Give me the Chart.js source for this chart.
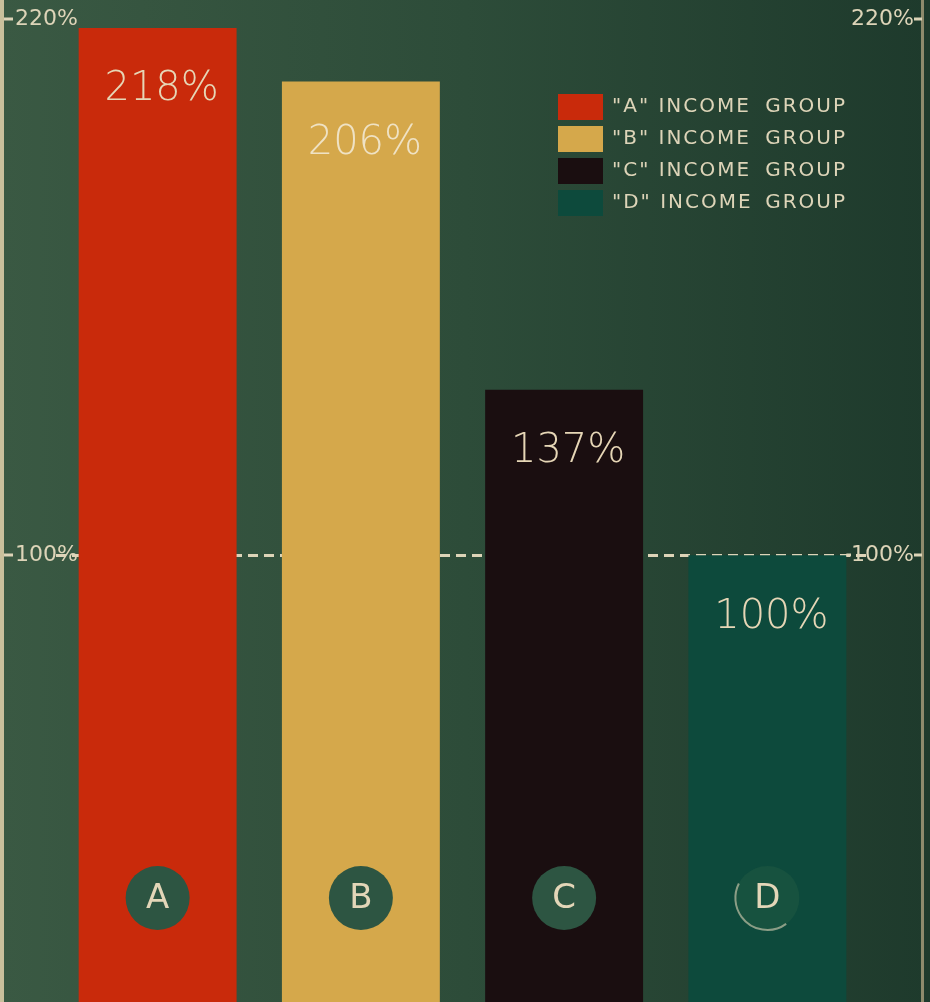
<!DOCTYPE html>
<html>
<head>
<meta charset="utf-8">
<script src="https://cdn.jsdelivr.net/npm/chart.js@4.4.1/dist/chart.umd.min.js"></script>
<style>
  html, body { margin: 0; padding: 0; background: #2c4a38; }
  #wrap { width: 930px; height: 1002px; position: relative; }
</style>
</head>
<body>
<div id="wrap"><canvas id="incomeChart"></canvas></div>
<script>
// Chart data
const groups = ["A", "B", "C", "D"];
const percentValues = [218, 206, 137, 100];
const tickValues = [100, 220];
const legendLabels = ['"A" INCOME', '"B" INCOME', '"C" INCOME', '"D" INCOME'];

const barColors = ["#c92a0b", "#d5a84b", "#1a0e10", "#0d4a3c"];
const cream = "#ddd4b8";

// background, frame lines, tick dashes, value labels, circles and legend
const decorPlugin = {
    id: "decor",
    beforeDraw(chart) {
        const ctx = chart.ctx;
        const g = ctx.createLinearGradient(0, 0, chart.width, 0);
        g.addColorStop(0, "#3a5943");
        g.addColorStop(0.5, "#2d4c39");
        g.addColorStop(1, "#1e3a2c");
        ctx.save();
        ctx.fillStyle = g;
        ctx.fillRect(0, 0, chart.width, chart.height);
        // side lines
        ctx.fillStyle = "#c9c09c";
        ctx.fillRect(0, 0, 4, chart.height);
        ctx.fillStyle = "#8d8a6c";
        ctx.fillRect(921, 0, 3, chart.height);
        ctx.restore();
    },
    afterDraw(chart) {
        const ctx = chart.ctx;
        const y = chart.scales.y;
        const meta = chart.getDatasetMeta(0);
        ctx.save();
        // small tick dashes next to the side lines
        ctx.strokeStyle = cream;
        ctx.lineWidth = 3;
        tickValues.forEach(v => {
            const py = Math.round(y.getPixelForValue(v));
            ctx.beginPath();
            ctx.moveTo(4, py); ctx.lineTo(13, py);
            ctx.moveTo(914, py); ctx.lineTo(922, py);
            ctx.stroke();
        });
        // solid bit joining bar D to the right 100% label
        const p100 = Math.round(y.getPixelForValue(100));
        ctx.beginPath();
        ctx.moveTo(meta.data[3].x + 79, p100); ctx.lineTo(851, p100);
        ctx.stroke();

        // value labels inside the bars
        ctx.font = "300 40px 'DejaVu Sans', sans-serif";
        ctx.textAlign = "center";
        ctx.textBaseline = "middle";
        meta.data.forEach((bar, i) => {
            ctx.fillStyle = i === 1 ? "#efe2c4" : "#e6d6b6";
            ctx.fillText(percentValues[i] + "%", bar.x + 4, bar.y + 62);
        });

        // group circles
        meta.data.forEach((bar, i) => {
            const cx = bar.x, cy = chart.chartArea.bottom - 104;
            ctx.beginPath();
            ctx.arc(cx, cy, 32, 0, Math.PI * 2);
            ctx.fillStyle = i === 3 ? "#17523f" : "#2d5542";
            ctx.fill();
            if (i === 3) {
                ctx.strokeStyle = "rgba(221,212,184,0.6)";
                ctx.lineWidth = 2;
                ctx.beginPath();
                ctx.arc(cx, cy, 32, Math.PI * 0.3, Math.PI * 1.15);
                ctx.stroke();
            }
            ctx.fillStyle = "#e3d6b8";
            ctx.font = "34px 'DejaVu Sans', sans-serif";
            ctx.fillText(groups[i], cx, cy + 1);
        });

        // legend
        ctx.textBaseline = "middle";
        ctx.font = "20px 'DejaVu Sans', sans-serif";
        legendLabels.forEach((lab, i) => {
            const ly = 107 + i * 32;
            ctx.fillStyle = barColors[i];
            ctx.fillRect(558, ly - 13, 45, 26);
            ctx.fillStyle = cream;
            ctx.textAlign = "left";
            ctx.letterSpacing = "2px";
            ctx.fillText(lab, 612, ly);
            ctx.textAlign = "right";
            ctx.fillText("GROUP", 847, ly);
            ctx.letterSpacing = "0px";
        });
        ctx.restore();
    }
};

const tickFont = { family: "'DejaVu Sans', sans-serif", size: 22 };

const ctx = document.getElementById("incomeChart").getContext("2d");
new Chart(ctx, {
    type: "bar",
    data: {
        labels: groups,
        datasets: [{
            data: percentValues,
            backgroundColor: barColors,
            borderWidth: 0,
            barPercentage: 0.777,
            categoryPercentage: 1,
        }],
    },
    options: {
        responsive: true,
        maintainAspectRatio: false,
        animation: false,
        layout: { padding: { left: 15, right: 15, top: 19, bottom: 0 } },
        plugins: {
            legend: { display: false },
            tooltip: { enabled: false },
        },
        scales: {
            x: { display: false },
            y: {
                position: "left",
                min: 0,
                max: 220,
                afterBuildTicks: s => { s.ticks = tickValues.map(v => ({ value: v })); },
                afterFit: s => { s.width = 41; s.paddingTop = 0; s.paddingBottom = 0; },
                border: { display: false, dash: [10, 6] },
                grid: {
                    drawTicks: false,
                    lineWidth: 3,
                    color: c => (c.tick && c.tick.value === 100 ? cream : "rgba(0,0,0,0)"),
                },
                ticks: {
                    mirror: true,
                    crossAlign: "near",
                    padding: -41,
                    color: cream,
                    font: tickFont,
                    callback: v => v + "%",
                },
            },
            y2: {
                position: "right",
                min: 0,
                max: 220,
                afterBuildTicks: s => { s.ticks = tickValues.map(v => ({ value: v })); },
                afterFit: s => { s.width = 46; s.paddingTop = 0; s.paddingBottom = 0; },
                border: { display: false },
                grid: { display: false, drawTicks: false },
                ticks: {
                    mirror: true,
                    crossAlign: "near",
                    padding: 45,
                    color: cream,
                    font: tickFont,
                    callback: v => v + "%",
                },
            },
        },
    },
    plugins: [decorPlugin],
});
</script>
</body>
</html>
